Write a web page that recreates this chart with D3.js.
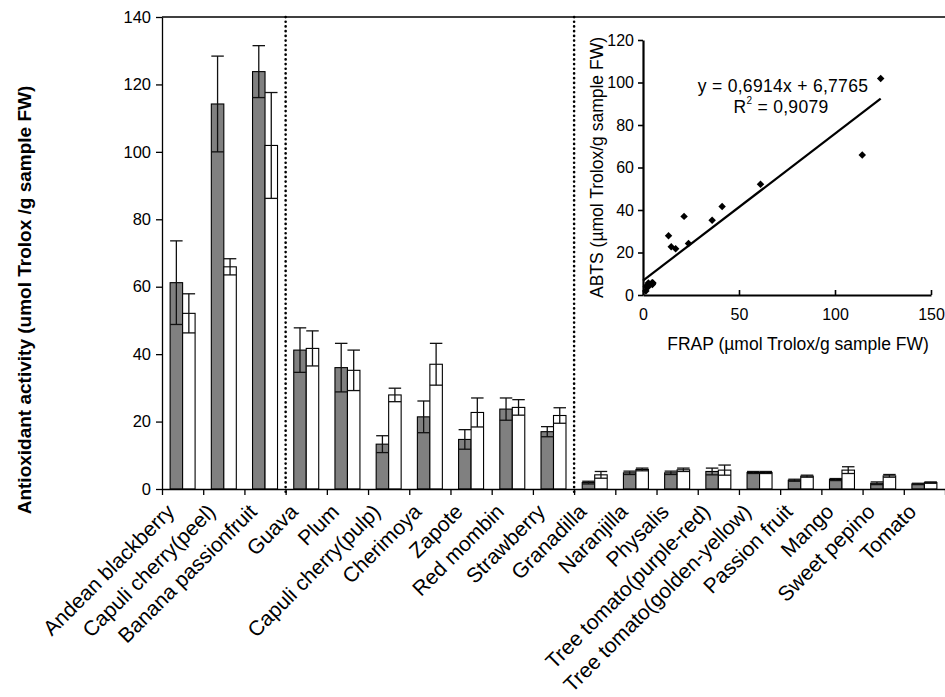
<!DOCTYPE html>
<html>
<head>
<meta charset="utf-8">
<script src="https://cdn.jsdelivr.net/npm/d3@7"></script>
<style>
  body { margin: 0; background: #fff; }
  svg { display: block; font-family: "Liberation Sans", Arial, sans-serif; }
</style>
</head>
<body>
<script>
// fruit names, left to right
var categories = ["Andean blackberry", "Capuli cherry(peel)", "Banana passionfruit", "Guava", "Plum",
  "Capuli cherry(pulp)", "Cherimoya", "Zapote", "Red mombin", "Strawberry", "Granadilla", "Naranjilla",
  "Physalis", "Tree tomato(purple-red)", "Tree tomato(golden-yellow)", "Passion fruit", "Mango",
  "Sweet pepino", "Tomato"];

// grey bars (FRAP) and white bars (ABTS), umol Trolox / g FW
var frap   = [61.2, 114.2, 123.8, 41.2, 36.0, 13.3, 21.4, 14.7, 23.7, 17.0, 1.9, 4.8, 4.8, 5.2, 4.9, 2.6, 2.8, 1.7, 1.5];
var frapSd = [12.4, 14.2, 7.7, 6.6, 7.2, 2.5, 4.7, 2.9, 3.3, 1.5, 0.4, 0.5, 0.5, 1.0, 0.3, 0.3, 0.3, 0.4, 0.2];
var abts   = [52.1, 65.9, 101.9, 41.7, 35.2, 27.9, 37.0, 22.7, 24.2, 21.8, 4.2, 5.8, 5.7, 5.6, 4.9, 3.8, 5.6, 3.9, 1.9];
var abtsSd = [5.8, 2.4, 15.7, 5.2, 6.0, 2.0, 6.2, 4.3, 2.3, 2.3, 1.0, 0.4, 0.5, 1.5, 0.3, 0.3, 1.0, 0.4, 0.2];

// dotted separators sit after these category counts
var groupBreaks = [3, 10];

var yTicks = [0, 20, 40, 60, 80, 100, 120, 140];
var insetXTicks = [0, 50, 100, 150];
var insetYTicks = [0, 20, 40, 60, 80, 100, 120];
var regression = [0.6914, 6.7765];   // slope, intercept
var regressionText = ["y = 0,6914x + 6,7765", "0,9079"];

var W = 945, H = 697;
var svg = d3.select("body").append("svg").attr("width", W).attr("height", H);

// note: "top" is taken by window.top, so use other names
var pLeft = 162, pRight = 945, pTop = 17, pBottom = 489;

var x = d3.scaleBand().domain(categories).range([pLeft, pRight]).paddingInner(0).paddingOuter(0);
var xs = d3.scaleBand().domain(["frap", "abts"]).range([0, x.bandwidth()]).paddingInner(0).paddingOuter(0.65);
var y = d3.scaleLinear().domain([0, 140]).range([pBottom, pTop]);
var xIdx = d3.scaleLinear().domain([0, categories.length]).range([pLeft, pRight]);

// ---- main chart ----
var rows = categories.map(function (c, i) {
  return [
    { cat: c, key: "frap", v: frap[i], sd: frapSd[i], fill: "#808080" },
    { cat: c, key: "abts", v: abts[i], sd: abtsSd[i], fill: "#ffffff" }
  ];
});
var bars = [].concat.apply([], rows);

svg.append("g").selectAll("rect")
  .data(bars).enter().append("rect")
  .attr("x", function (d) { return x(d.cat) + xs(d.key); })
  .attr("y", function (d) { return y(d.v); })
  .attr("width", xs.bandwidth())
  .attr("height", function (d) { return y(0) - y(d.v); })
  .attr("fill", function (d) { return d.fill; })
  .attr("stroke", "#000").attr("stroke-width", 1.1);

var eb = svg.append("g").attr("stroke", "#111").attr("stroke-width", 1.3).attr("fill", "none");
var capHalf = xs.bandwidth() / 2;
bars.forEach(function (d) {
  var cx = x(d.cat) + xs(d.key) + xs.bandwidth() / 2;
  var lo = Math.max(0, d.v - d.sd), hi = d.v + d.sd;
  eb.append("line").attr("x1", cx).attr("x2", cx).attr("y1", y(lo)).attr("y2", y(hi));
  eb.append("line").attr("x1", cx - capHalf).attr("x2", cx + capHalf).attr("y1", y(hi)).attr("y2", y(hi));
  eb.append("line").attr("x1", cx - capHalf).attr("x2", cx + capHalf).attr("y1", y(lo)).attr("y2", y(lo));
});

// top frame line
svg.append("line").attr("x1", pLeft).attr("x2", pRight).attr("y1", pTop).attr("y2", pTop)
  .attr("stroke", "#000").attr("stroke-width", 1.3);

// dotted group separators
svg.append("g").selectAll("line").data(groupBreaks).enter().append("line")
  .attr("x1", function (d) { return xIdx(d); }).attr("x2", function (d) { return xIdx(d); })
  .attr("y1", pTop).attr("y2", pBottom + 4)
  .attr("stroke", "#000").attr("stroke-width", 2.6)
  .attr("stroke-linecap", "round").attr("stroke-dasharray", "0.1 4.6");

// y axis
var yAxis = svg.append("g").attr("transform", "translate(" + pLeft + ",0)")
  .call(d3.axisLeft(y).tickValues(yTicks).tickSize(6).tickSizeOuter(0).tickPadding(5));
yAxis.selectAll("text").attr("font-size", 16.5).attr("font-family", "Liberation Sans, Arial, sans-serif").attr("fill", "#000");
yAxis.selectAll("line,path").attr("stroke", "#000").attr("stroke-width", 1.3);

// x axis (ticks at band edges)
var xAxis = svg.append("g").attr("transform", "translate(0," + pBottom + ")")
  .call(d3.axisBottom(xIdx).tickValues(d3.range(categories.length + 1)).tickSize(6).tickSizeOuter(0).tickFormat(""));
xAxis.selectAll("line,path").attr("stroke", "#000").attr("stroke-width", 1.3);

// category labels
svg.append("g").selectAll("text").data(categories).enter().append("text")
  .attr("transform", function (d) {
    return "translate(" + (x(d) + x.bandwidth() / 2 - 7) + "," + (pBottom + 24) + ") rotate(-45)";
  })
  .attr("text-anchor", "end")
  .attr("font-size", 21)
  .text(function (d) { return d; });

// y title
svg.append("text")
  .attr("transform", "translate(31,300) rotate(-90)")
  .attr("text-anchor", "middle").attr("font-size", 19).attr("font-weight", "bold")
  .text("Antioxidant activity (umol Trolox /g sample FW)");

// ---- inset scatter ----
var ix = d3.scaleLinear().domain([0, 150]).range([643, 931]);
var iy = d3.scaleLinear().domain([0, 120]).range([295, 40]);
var pts = frap.map(function (v, i) { return [v, abts[i]]; });

var ixAxis = svg.append("g").attr("transform", "translate(0," + iy(0) + ")")
  .call(d3.axisBottom(ix).tickValues(insetXTicks).tickSizeInner(-5).tickSizeOuter(0).tickPadding(14));
var iyAxis = svg.append("g").attr("transform", "translate(" + ix(0) + ",0)")
  .call(d3.axisLeft(iy).tickValues(insetYTicks).tickSize(5).tickSizeOuter(0).tickPadding(4));
[ixAxis, iyAxis].forEach(function (a) {
  a.selectAll("path").attr("stroke", "#000").attr("stroke-width", 2.2);
  a.selectAll("line").attr("stroke", "#000").attr("stroke-width", 1.6);
  a.selectAll("text").attr("font-size", 16).attr("font-family", "Liberation Sans, Arial, sans-serif").attr("fill", "#000");
});

var xMax = d3.max(frap);
svg.append("line")
  .attr("x1", ix(0)).attr("y1", iy(regression[1]))
  .attr("x2", ix(xMax)).attr("y2", iy(regression[0] * xMax + regression[1]))
  .attr("stroke", "#000").attr("stroke-width", 2.2);

svg.append("g").selectAll("path").data(pts).enter().append("path")
  .attr("d", d3.symbol().type(d3.symbolSquare).size(28))
  .attr("transform", function (d) { return "translate(" + ix(d[0]) + "," + iy(d[1]) + ") rotate(45)"; })
  .attr("fill", "#000");

svg.append("text").attr("x", 783).attr("y", 92).attr("text-anchor", "middle").attr("font-size", 17.5)
  .attr("letter-spacing", 0.3)
  .text(regressionText[0]);
var r2 = svg.append("text").attr("x", 781).attr("y", 113).attr("text-anchor", "middle").attr("font-size", 17.5)
  .attr("letter-spacing", 0.3);
r2.append("tspan").text("R");
r2.append("tspan").attr("font-size", 10).attr("dy", -9).text("2");
r2.append("tspan").attr("dy", 9).text(" = " + regressionText[1]);

svg.append("text").attr("x", 798).attr("y", 350).attr("text-anchor", "middle").attr("font-size", 17.5)
  .text("FRAP (\u00b5mol Trolox/g sample FW)");
svg.append("text")
  .attr("transform", "translate(603," + ((40 + 295) / 2) + ") rotate(-90)")
  .attr("text-anchor", "middle").attr("font-size", 17.5)
  .text("ABTS (\u00b5mol Trolox/g sample FW)");
</script>
</body>
</html>
